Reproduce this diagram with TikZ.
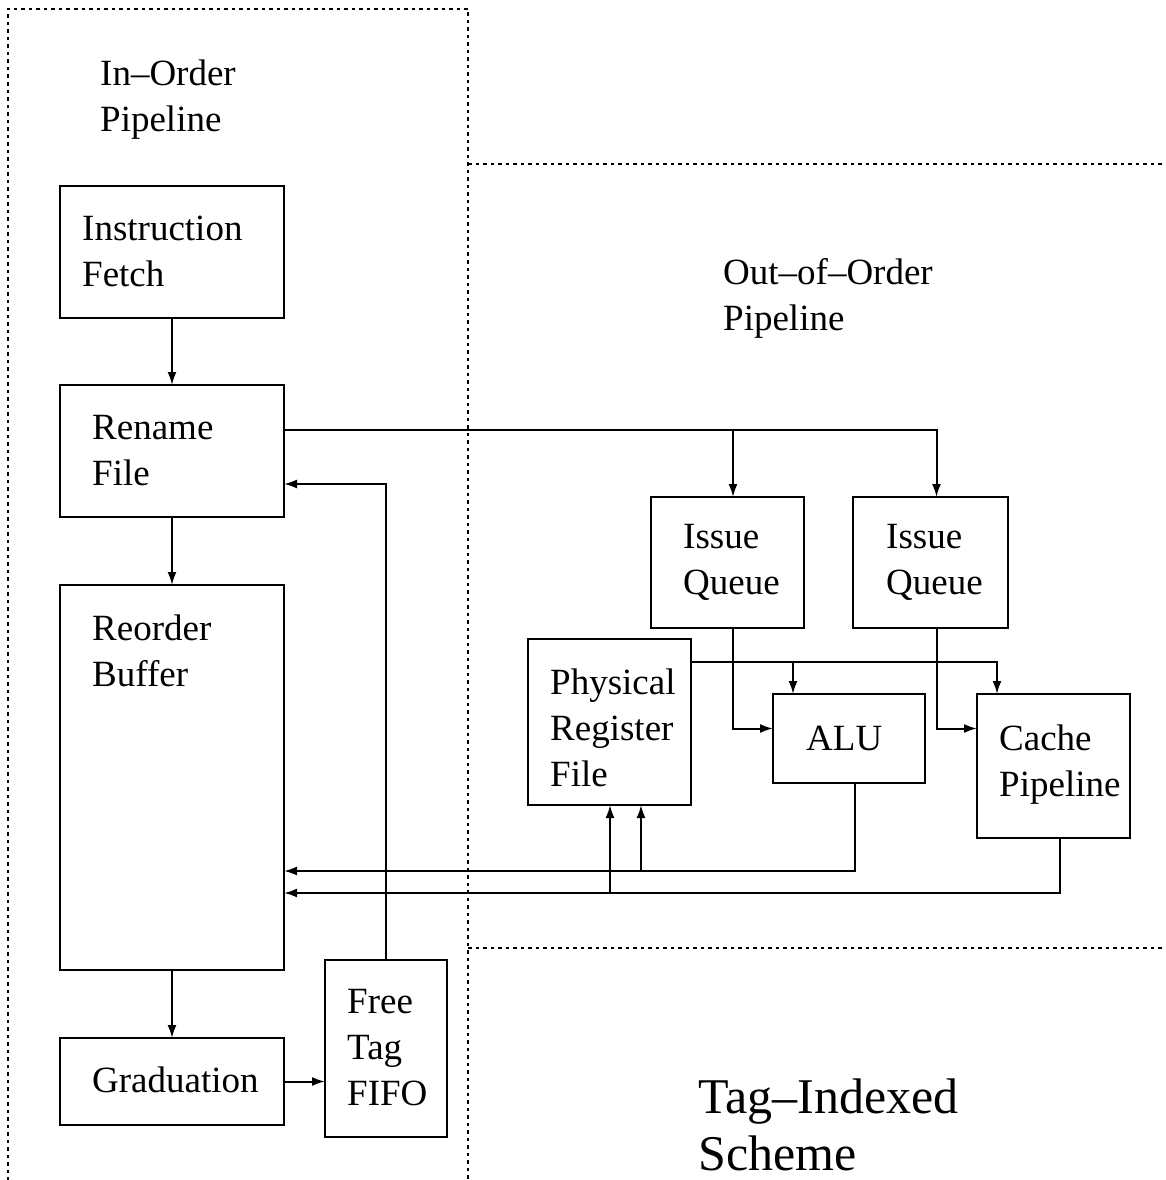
\documentclass[tikz,border=0pt]{standalone}
\usepackage{fontspec}
\setmainfont{Liberation Serif}
\usetikzlibrary{arrows.meta}
\newcommand\twoln[2]{\vtop{\hbox{#1}\hbox{#2}}}
\newcommand\threeln[3]{\vtop{\hbox{#1}\hbox{#2}\hbox{#3}}}
\begin{document}
\begin{tikzpicture}[x=1pt,y=-1pt,
  box/.style={draw, line width=2pt, inner sep=0pt, outer sep=0pt, anchor=north west},
  lbl/.style={font=\fontsize{37}{46}\selectfont, inner sep=0pt, anchor=base west},
  biglbl/.style={font=\fontsize{50}{57}\selectfont, inner sep=0pt, anchor=base west},
  arr/.style={line width=2pt, -{Latex[length=13pt,width=9pt]}},
  region/.style={line width=2pt, dash pattern=on 3.5pt off 4pt}]
\useasboundingbox (0,0) rectangle (1165,1180);
% regions
\draw[region] (8,1180.5) -- (8,9) -- (468,9) -- (468,1180);
\draw[region] (8,1180.5) -- (468,1180.5);
\draw[region] (468,164) -- (1165,164);
\draw[region] (468,948) -- (1165,948);
% boxes
\node[box, minimum width=224pt, minimum height=132pt] (IF) at (60,186) {};
\node[box, minimum width=224pt, minimum height=132pt] (RF) at (60,385) {};
\node[box, minimum width=224pt, minimum height=385pt] (ROB) at (60,585) {};
\node[box, minimum width=224pt, minimum height=87pt] (GR) at (60,1038) {};
\node[box, minimum width=122pt, minimum height=177pt] (FT) at (325,960) {};
\node[box, minimum width=153pt, minimum height=131pt] (IQ1) at (651,497) {};
\node[box, minimum width=155pt, minimum height=131pt] (IQ2) at (853,497) {};
\node[box, minimum width=163pt, minimum height=166pt] (PRF) at (528,639) {};
\node[box, minimum width=152pt, minimum height=89pt] (ALU) at (773,694) {};
\node[box, minimum width=153pt, minimum height=144pt] (CP) at (977,694) {};
% labels
\node[lbl] (tIO) at (100,86) {\twoln{In–Order}{Pipeline}};
\node[lbl] (tOO) at (723,284) {\twoln{Out–of–Order}{Pipeline}};
\node[lbl] (tIF) at (82,240) {\twoln{Instruction}{Fetch}};
\node[lbl] (tRF) at (92,439) {\twoln{Rename}{File}};
\node[lbl] (tROB) at (92,640) {\twoln{Reorder}{Buffer}};
\node[lbl] (tGR) at (92,1092) {Graduation};
\node[lbl] (tFT) at (347,1013) {\threeln{Free}{Tag}{FIFO}};
\node[lbl] (tIQ1) at (683,548) {\twoln{Issue}{Queue}};
\node[lbl] (tIQ2) at (886,548) {\twoln{Issue}{Queue}};
\node[lbl] (tPRF) at (550,694) {\threeln{Physical}{Register}{File}};
\node[lbl] (tALU) at (806,750) {ALU};
\node[lbl] (tCP) at (999,750) {\twoln{Cache}{Pipeline}};
\node[biglbl] (tTI) at (698,1113) {\twoln{Tag–Indexed}{Scheme}};
% in-order connectors
\draw[arr] (IF.south) -- (RF.north);
\draw[arr] (RF.south) -- (ROB.north);
\draw[arr] (ROB.south) -- (GR.north);
\draw[arr] (GR.east) -- (FT.west |- GR.east);
\draw[arr] (FT.north) |- ([yshift=-33pt]RF.east);
% rename to issue queues
\draw[arr] ([yshift=21pt]RF.east) -| ([xshift=5.5pt]IQ1.north);
\draw[arr] ([yshift=21pt]RF.east) -| ([xshift=6pt]IQ2.north);
% issue queues to units
\draw[arr] ([xshift=5.5pt]IQ1.south) |- ([yshift=10pt]ALU.west);
\draw[arr] ([xshift=6pt]IQ2.south) |- ([yshift=10pt]CP.west |- ALU.west);
% register file to units
\draw[arr] ([yshift=-23pt]PRF.north east) -| ([xshift=-56pt]ALU.north);
\draw[arr] ([yshift=-23pt]PRF.north east) -| ([xshift=-56.5pt]CP.north);
% results back
\coordinate (busA) at (641,871);
\coordinate (busB) at (610,893);
\draw[arr] ([xshift=6pt]ALU.south) |- (ROB.east |- busA);
\draw[arr] ([xshift=6.5pt]CP.south) |- (ROB.east |- busB);
\draw[arr] (busA) -- (busA |- PRF.south);
\draw[arr] (busB) -- (busB |- PRF.south);
\end{tikzpicture}
\end{document}
